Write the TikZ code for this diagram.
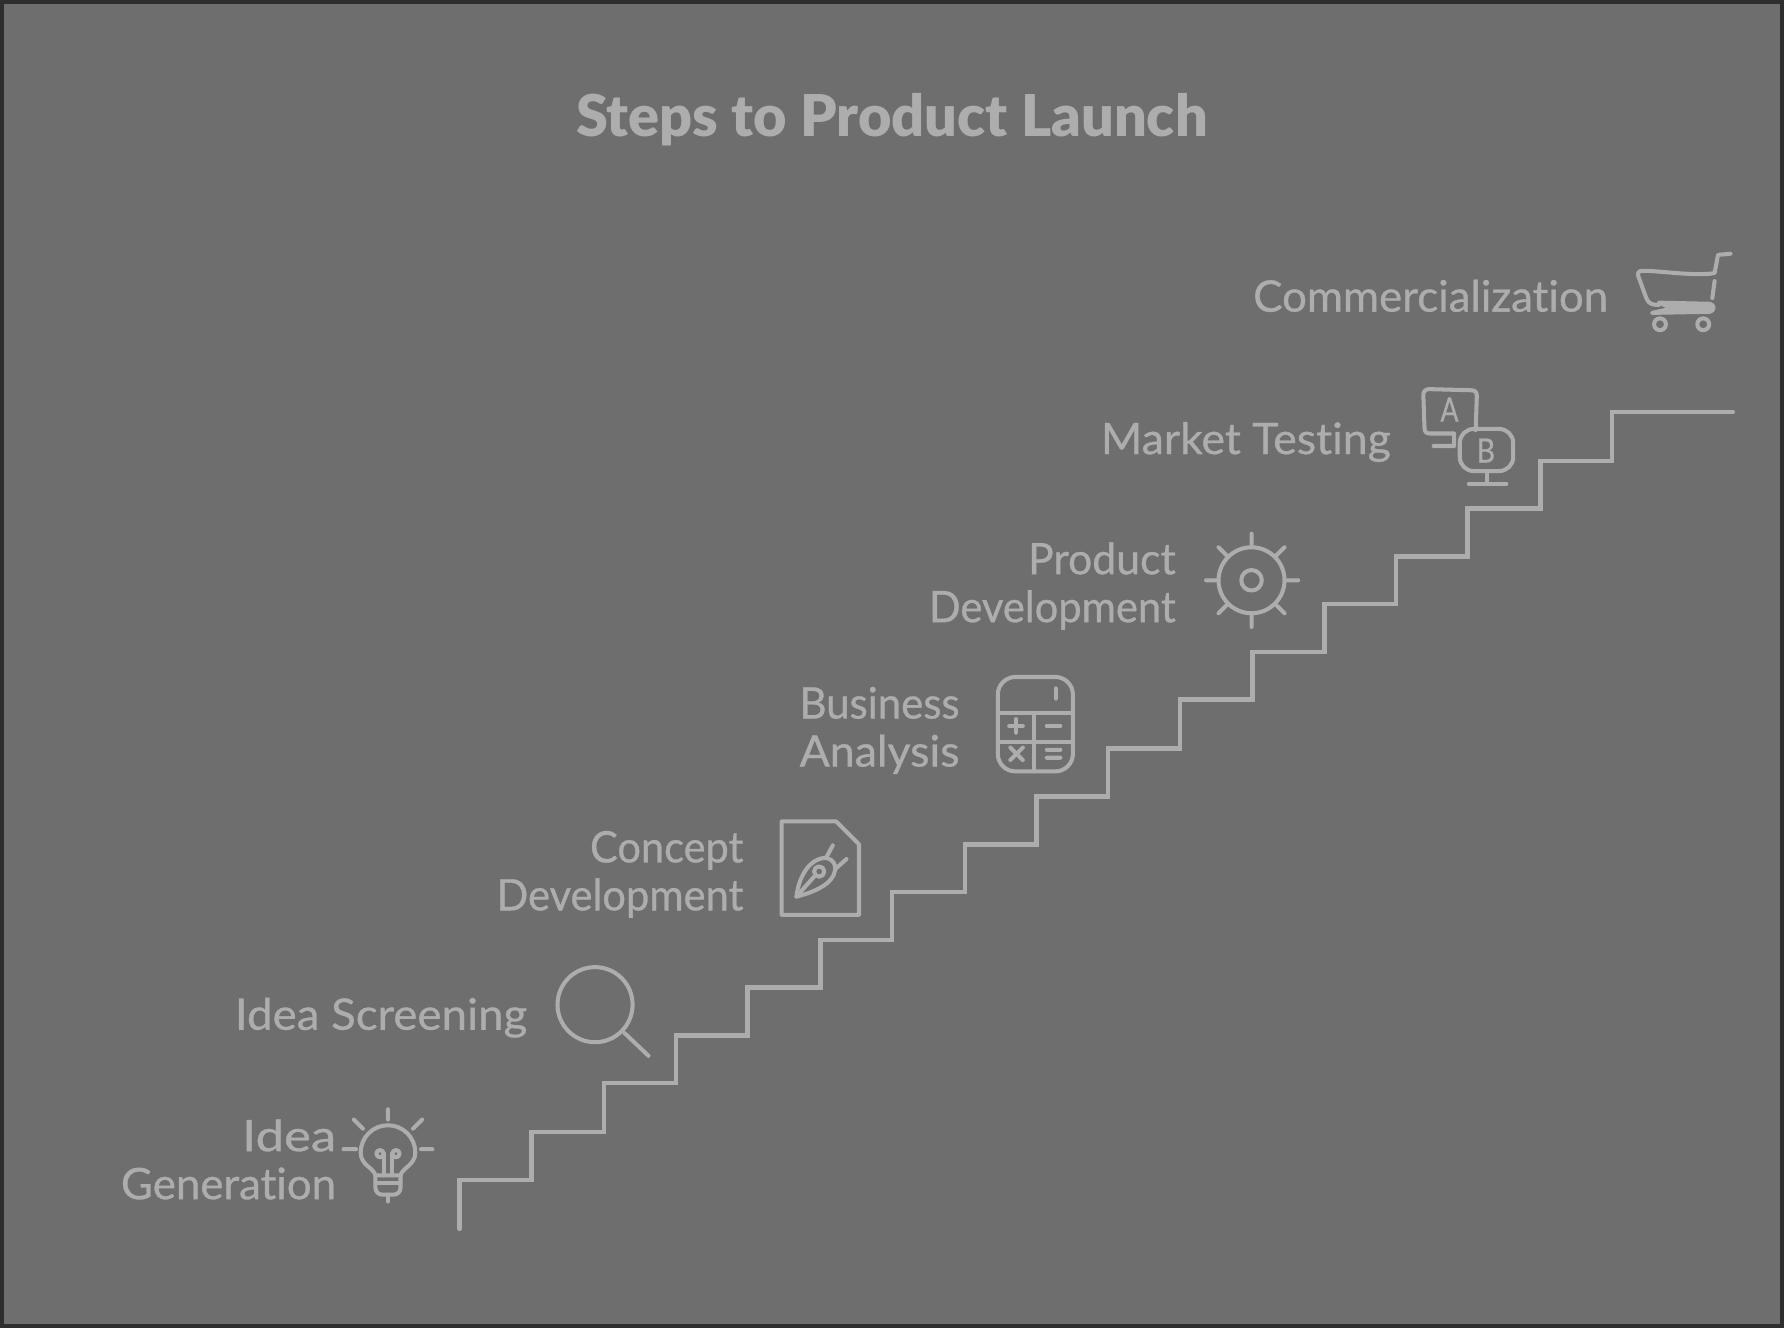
\documentclass[tikz,border=0pt]{standalone}
\usepackage{fontspec}
\setmainfont{Lato}[Ligatures=NoCommon,BoldFont={Lato},BoldFeatures={FakeBold=0.7}]
\newfontfamily\ttlfont{Lato}[Ligatures=NoCommon,BoldFont={Lato Black}]
\definecolor{ink}{HTML}{ADADAD}
\definecolor{bgc}{HTML}{6E6E6E}
\definecolor{edgec}{HTML}{2E2E2E}
\newcommand{\wline}[2]{\scalebox{#1}[1]{#2}}
\tikzset{
  sk/.style={draw=ink,line width=1.15pt,line cap=round,line join=round},
  stair/.style={draw=ink,line width=1.3pt,line cap=round,line join=miter},
  lab/.style={text=ink,anchor=east,align=right,inner sep=0pt,font=\fontsize{12.35}{13.65}\selectfont\bfseries},
  ttl/.style={text=ink,inner sep=0pt,font=\fontsize{16.4}{20}\selectfont\ttlfont\bfseries},
  letter/.style={text=ink,inner sep=0pt,font=\fontsize{9.5}{10}\selectfont\bfseries}
}
\begin{document}
\begin{tikzpicture}[x=0.011378cm,y=-0.011378cm]
\useasboundingbox (0,0) rectangle (1568,1167.2);
\fill[edgec] (0,0) rectangle (1568,1167.2);
\fill[bgc] (3.5,3.5) rectangle (1564.5,1163.7);
\node[ttl] (title) at (784,105) {Steps to Product Launch};
% labels
\node[lab] (l1) at (296,1019) {\wline{1.17}{Idea}\\\wline{1.01}{Generation}};
\node[lab] (l2) at (464,894.5) {\wline{1.053}{Idea Screening}};
\node[lab] (l3) at (654,768.5) {\wline{0.957}{Concept}\\\wline{0.96}{Development}};
\node[lab] (l4) at (844,642) {\wline{0.966}{Business}\\\wline{1.03}{Analysis}};
\node[lab] (l5) at (1034,515) {\wline{0.985}{Product}\\\wline{0.96}{Development}};
\node[lab] (l6) at (1223,388.5) {\wline{1.028}{Market Testing}};
\node[lab] (l7) at (1414,260) {\wline{1.01}{Commercialization}};
% stairs
\draw[stair] (404,1080)--(404,1037)--(467,1037)--(467,995)--(531,995)--(531,952)--(594,952)--(594,910)--(657,910)--(657,868)--(721,868)--(721,826)--(784,826)--(784,784)--(848,784)--(848,742)--(911,742)--(911,700)--(974,700)--(974,658)--(1037,658)--(1037,615)--(1101,615)--(1101,573)--(1164,573)--(1164,531)--(1227,531)--(1227,489)--(1290,489)--(1290,447)--(1354,447)--(1354,405)--(1417,405)--(1417,362)--(1523,362);
% bulb
\draw[sk] (330,1033) .. controls (328,1026) and (317,1024) .. (317,1013) arc[start angle=180,end angle=360,radius=24] .. controls (365,1024) and (354,1026) .. (352,1033) -- cycle;
\draw[sk] (330,1033)--(330,1044) arc[start angle=180,end angle=90,radius=6]--(346,1050) arc[start angle=90,end angle=0,radius=6]--(352,1033);
\draw[sk] (330,1040)--(352,1040);
\draw[sk] (341,1050)--(341,1056);
\draw[sk] (334,1014) circle[radius=3.2] (348,1014) circle[radius=3.2];
\draw[sk] (337.5,1014)--(337.5,1033) (344.5,1014)--(344.5,1033);
\draw[sk] (341,975)--(341,984) (363,992)--(371,984) (319,992)--(311,984) (302,1010)--(313,1010) (370,1010)--(380,1010);
% magnifier
\draw[sk] (523,883) circle[radius=33];
\draw[sk] (549,908)--(570,928);
% document with nib
\draw[sk] (687,722)--(735,722)--(755,742)--(755,804)--(687,804)--cycle;
\draw[sk] (700,788) .. controls (702,770) and (712,754) .. (726,754) .. controls (732,755) and (735,760) .. (734,765) .. controls (732,777) and (716,784) .. (700,788) -- cycle;
\draw[sk] (720,766) circle[radius=4.5];
\draw[sk] (700,788)--(716,770);
\draw[sk] (726,754)--(732,743) (734,764)--(744,755);
% calculator
\draw[sk,rounded corners=5] (877,595) rectangle (943,678);
\draw[sk] (877,627)--(943,627) (877,652)--(943,652) (909,627)--(909,678) (928,605)--(928,614);
\draw[sk] (887,638)--(899,638) (893,632)--(893,644) (920,638)--(932,638);
\draw[sk] (888,657)--(899,668) (899,657)--(888,668) (920,659)--(932,659) (920,666)--(932,666);
% gear
\draw[sk] (1100,510) circle[radius=29];
\draw[sk] (1100,510) circle[radius=9];
\draw[sk] (1100,469)--(1100,480) (1100,540)--(1100,551) (1060,510)--(1071,510) (1130,510)--(1141,510) (1122,488)--(1129,481) (1078,488)--(1071,481) (1122,532)--(1129,539) (1078,532)--(1071,539);
% A/B screens
\draw[sk] (1297,378)--(1298,348) .. controls (1298,344) and (1296,343) .. (1293,343)--(1256,342) .. controls (1253,342) and (1251,344) .. (1251,347)--(1252,376) .. controls (1252,380) and (1254,381) .. (1257,381)--(1278,381)--(1278,392)--(1260,392);
\draw[sk,rounded corners=4] (1283,377) rectangle (1330,414);
\draw[sk] (1307,414)--(1307,424) (1291,425)--(1324,425);
\node[letter] (la) at (1274,360) {\wline{0.8}{A}};
\node[letter] (lb) at (1306,396) {\wline{0.85}{B}};
% cart
\draw[sk] (1521,223)--(1510,224)--(1507,240) .. controls (1490,243) and (1460,238) .. (1444,238) .. controls (1440,238) and (1439,240) .. (1440,243)--(1447,262) .. controls (1449,267) and (1452,268) .. (1458,268);
\draw[sk,fill=ink] (1458,266)--(1503,267) .. controls (1507,268) and (1507,273) .. (1503,274)--(1452,275)--(1470,271)--cycle;
\draw[sk] (1507,247)--(1505,262);
\draw[sk] (1459,285) circle[radius=5.2];
\draw[sk] (1497,285) circle[radius=5.2];
\end{tikzpicture}
\end{document}
